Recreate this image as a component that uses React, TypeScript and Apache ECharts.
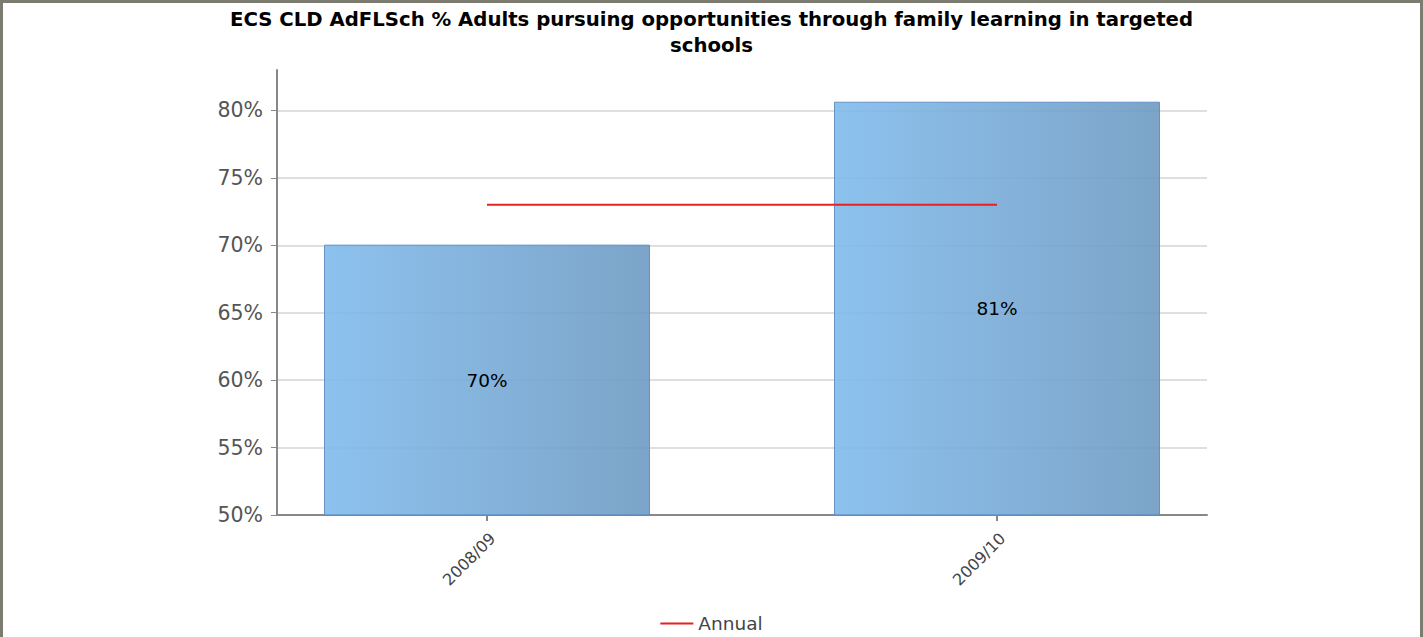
import React, { useEffect, useRef } from "react";
import * as echarts from "echarts";

const categories = ["2008/09", "2009/10"];
const barValues = [70.05, 80.65];
const barLabels = ["70%", "81%"];
const annualValues = [73, 73];
const yTicks = [50, 55, 60, 65, 70, 75, 80];
const titleText =
  "ECS CLD AdFLSch % Adults pursuing opportunities through family learning in targeted\nschools";

export default function App() {
  const ref = useRef<HTMLDivElement>(null);
  useEffect(() => {
    document.body.style.margin = "0";
    const chart = echarts.init(ref.current!, null, { renderer: "svg" });
    const idx = categories.map((_, i) => i);
    chart.setOption({
      animation: false,
      backgroundColor: "#ffffff",
      title: {
        text: titleText,
        left: "center",
        top: 1,
        textStyle: {
          fontFamily: "DejaVu Sans",
          fontWeight: "bold",
          fontSize: 19.7,
          color: "#000",
          lineHeight: 26,
        },
      },
      legend: {
        bottom: -1,
        left: "center",
        data: [{ name: "Annual", icon: "path://M0,0 L33,0 L33,2 L0,2 Z" }],
        itemWidth: 33,
        itemHeight: 2,
        itemGap: 8,
        textStyle: { fontFamily: "DejaVu Sans", fontSize: 18.5, color: "#444" },
      },
      grid: { left: 277, right: 216, top: 70, bottom: 122, containLabel: false },
      xAxis: {
        type: "value",
        min: -0.4118,
        max: 1.4118,
        axisLine: { show: true, onZero: false, lineStyle: { color: "#888", width: 2 } },
        splitLine: { show: false },
        axisTick: { show: true, customValues: idx, length: 6, lineStyle: { color: "#888", width: 2 } },
        axisLabel: {
          customValues: idx,
          formatter: (v: number) => categories[Math.round(v)] ?? "",
          rotate: 45,
          fontFamily: "DejaVu Sans",
          fontSize: 16,
          color: "#444",
          margin: 15,
          verticalAlign: "top",
        },
      },
      yAxis: {
        type: "value",
        min: 50,
        max: 83,
        axisLine: { show: true, onZero: false, lineStyle: { color: "#888", width: 2 } },
        splitLine: { show: false },
        axisTick: { show: true, customValues: yTicks, length: 6, lineStyle: { color: "#888", width: 1 } },
        axisLabel: {
          customValues: yTicks,
          formatter: (v: number) => v + "%",
          fontFamily: "DejaVu Sans",
          fontSize: 20.5,
          color: "#555",
          margin: 14,
        },
      },
      series: [
        {
          name: "grid",
          type: "line",
          data: [],
          z: 0,
          silent: true,
          markLine: {
            z: 0,
            silent: true,
            symbol: "none",
            label: { show: false },
            lineStyle: { color: "#d4d4d4", width: 1.5, type: "solid" },
            data: yTicks.slice(1).map((t) => ({ yAxis: t })),
          },
        },
        {
          name: "Value",
          type: "bar",
          z: 2,
          barWidth: 326,
          data: idx.map((i) => [i, barValues[i]]),
          itemStyle: {
            color: {
              type: "linear",
              x: 0,
              y: 0,
              x2: 1,
              y2: 0,
              colorStops: [
                { offset: 0, color: "rgba(128,187,236,0.9)" },
                { offset: 1, color: "rgba(110,154,195,0.9)" },
              ],
            },
            borderColor: "rgba(90,140,195,0.9)",
            borderWidth: 1,
          },
          label: {
            show: true,
            position: "inside",
            formatter: (p: any) => barLabels[p.dataIndex],
            fontFamily: "DejaVu Sans",
            fontSize: 18.5,
            color: "#000",
          },
        },
        {
          name: "Annual",
          type: "line",
          z: 3,
          data: idx.map((i) => [i, annualValues[i]]),
          showSymbol: false,
          symbol: "none",
          lineStyle: { color: "#e82020", width: 2 },
          itemStyle: { color: "#e82020" },
        },
      ],
    });
    return () => chart.dispose();
  }, []);
  return (
    <div style={{ width: 1423, height: 637, position: "relative" }}>
      <div ref={ref} style={{ position: "absolute", left: 0, top: 0, width: 1423, height: 637 }} />
      <div
        style={{
          position: "absolute",
          left: 0,
          top: 0,
          width: 1423,
          height: 637,
          boxSizing: "border-box",
          borderTop: "3px solid #7b7b6f",
          borderLeft: "3px solid #7b7b6f",
          borderRight: "3px solid #7b7b6f",
          pointerEvents: "none",
        }}
      />
    </div>
  );
}
